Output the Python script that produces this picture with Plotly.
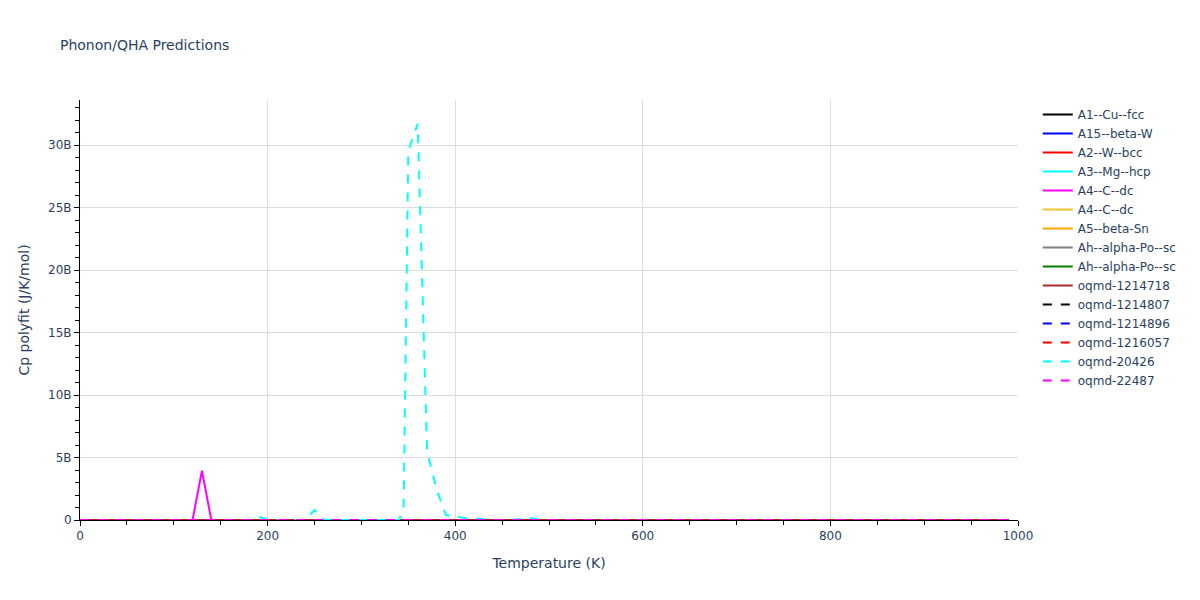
import plotly.graph_objects as go

# Temperatures (K)
temperature = list(range(0, 1000, 10))

# Series names, colours and dash styles
names = ["A1--Cu--fcc", "A15--beta-W", "A2--W--bcc", "A3--Mg--hcp", "A4--C--dc",
         "A4--C--dc", "A5--beta-Sn", "Ah--alpha-Po--sc", "Ah--alpha-Po--sc",
         "oqmd-1214718", "oqmd-1214807", "oqmd-1214896", "oqmd-1216057",
         "oqmd-20426", "oqmd-22487"]
colors = ["black", "blue", "red", "cyan", "magenta", "#F2C12E", "orange", "gray",
          "green", "brown", "black", "blue", "red", "cyan", "magenta"]
dashes = ["solid"] * 10 + ["dash"] * 5

# Values: nearly all series sit at ~0
zero_series = [0.0] * len(temperature)

# A4--C--dc (magenta, solid): spike near 130 K
a4_spike_T = [120, 130, 140]
a4_spike_v = [0.0, 3.95e9, 0.0]

# oqmd-20426 (cyan, dashed): non-zero points
oqmd20426_T = [180, 190, 200, 240, 250, 260, 270, 340, 345, 350, 360, 370, 380, 390,
               400, 410, 420, 430, 440, 450, 460, 470, 480, 490]
oqmd20426_v = [0.0, 0.3e9, 0.0, 0.0, 0.8e9, 0.05e9, 0.0, 0.0, 0.9e9, 29.5e9, 31.7e9,
               5.5e9, 2.5e9, 0.4e9, 0.3e9, 0.15e9, 0.1e9, 0.05e9, 0.05e9, 0.0,
               0.02e9, 0.1e9, 0.15e9, 0.0]


def build(base_T, base_v, extra_T, extra_v):
    d = dict(zip(base_T, base_v))
    for t, v in zip(extra_T, extra_v):
        d[t] = v
    ts = sorted(d)
    return ts, [d[t] for t in ts]


fig = go.Figure()
for i, (name, col, dash) in enumerate(zip(names, colors, dashes)):
    if i == 4:
        xs, ys = build(temperature, zero_series, a4_spike_T, a4_spike_v)
    elif i == 13:
        xs, ys = build(temperature, zero_series, oqmd20426_T, oqmd20426_v)
    else:
        xs, ys = temperature, zero_series
    fig.add_trace(go.Scatter(x=xs, y=ys, mode="lines", name=name,
                             line=dict(color=col, dash=dash, width=2)))

fig.update_layout(
    template="plotly_white",
    font=dict(family="DejaVu Sans, Verdana, sans-serif", size=12, color="#2a3f5f"),
    title=dict(text="Phonon/QHA Predictions", font=dict(size=14),
               x=0.0439, xanchor="left", y=0.9366, yanchor="middle"),
    margin=dict(l=72, r=173, t=92, b=72),
    xaxis=dict(title="Temperature (K)", range=[0, 1000], dtick=200,
               showline=True, linecolor="black", linewidth=1,
               ticks="outside", ticklen=5, tickcolor="black",
               minor=dict(dtick=50, ticks="outside", ticklen=4, tickcolor="black"),
               showgrid=True, gridcolor="#dddddd", zeroline=False),
    yaxis=dict(title="Cp polyfit (J/K/mol)", range=[0, 33.6e9], dtick=5e9,
               exponentformat="B",
               showline=True, linecolor="black", linewidth=1,
               ticks="outside", ticklen=5, tickcolor="black",
               minor=dict(dtick=1e9, ticks="outside", ticklen=4, tickcolor="black"),
               showgrid=True, gridcolor="#dddddd", zeroline=False),
    showlegend=True,
)

fig.write_html("out.html")
